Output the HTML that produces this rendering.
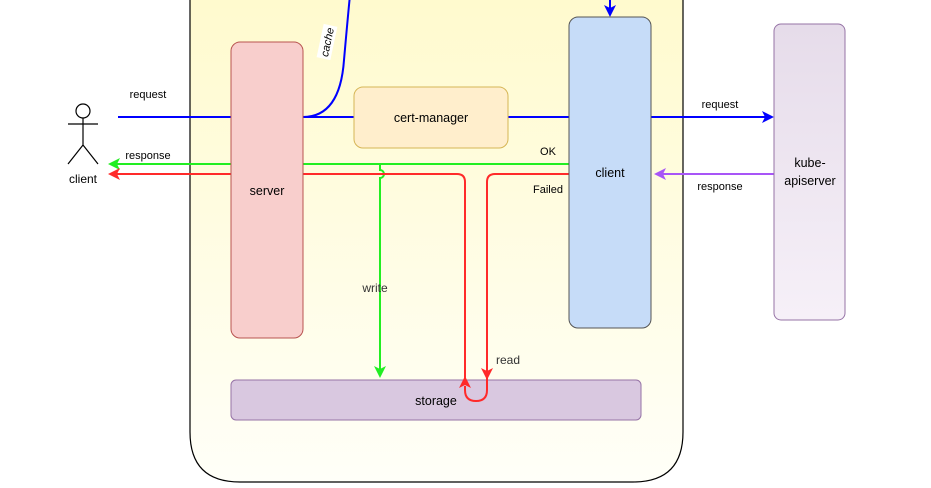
<!DOCTYPE html>
<html><head><meta charset="utf-8"><style>
body{margin:0;background:#fff;width:931px;height:488px;overflow:hidden}
svg{display:block;font-family:"Liberation Sans",Helvetica,Arial,sans-serif}
</style></head><body>
<svg width="931" height="488" viewBox="0 0 931 488">
<defs>
<linearGradient id="yg" x1="0" y1="0" x2="0" y2="1"><stop offset="0" stop-color="#fffacd"/><stop offset="1" stop-color="#fffff8"/></linearGradient>
<linearGradient id="pg" x1="0" y1="0" x2="0" y2="1"><stop offset="0" stop-color="#e6dcea"/><stop offset="1" stop-color="#f6f0f8"/></linearGradient>
</defs>
<path d="M190,-10 V432 Q190,482 240,482 H633 Q683,482 683,432 V-10" fill="url(#yg)" stroke="#000" stroke-width="1.2"/>
<!-- actor -->
<g stroke="#000" stroke-width="1.2" fill="none">
<circle cx="83" cy="111" r="7"/>
<path d="M83,118 V145 M68,124 H98 M83,145 L68,164 M83,145 L98,164"/>
</g>
<text x="83" y="183" font-size="12" text-anchor="middle">client</text>
<!-- blue -->
<g stroke="#0000ff" stroke-width="2" fill="none">
<path d="M118,117 H766"/>
<path d="M303,117 Q340,117 344,60 Q348,15 350,-5"/>
<path d="M610,-5 V9"/>
</g>
<path d="M774,117 L762,111 L765,117 L762,123 Z" fill="#0000ff"/>
<path d="M610,17 L604,5 L610,8 L616,5 Z" fill="#0000ff"/>
<rect x="310" y="35" width="34" height="14" fill="#fff" transform="rotate(-78 327 42)"/>
<text x="327" y="46" font-size="11" font-style="italic" text-anchor="middle" transform="rotate(-78 327 42)">cache</text>
<text x="148" y="98" font-size="11" text-anchor="middle">request</text>
<text x="720" y="108" font-size="11" text-anchor="middle">request</text>
<!-- purple -->
<path d="M774,174 H662" stroke="#a855f7" stroke-width="2"/>
<path d="M654,174 L666,168 L663,174 L666,180 Z" fill="#a855f7"/>
<text x="720" y="190" font-size="11" text-anchor="middle">response</text>
<!-- green -->
<g stroke="#22ee22" stroke-width="2" fill="none">
<path d="M569,164 H116"/>
<path d="M380,164 V170 a4,4 0 0 1 0,8 V370"/>
</g>
<path d="M108,164 L120,158 L117,164 L120,170 Z" fill="#22ee22"/>
<path d="M380,378 L374,366 L380,369 L386,366 Z" fill="#22ee22"/>
<text x="148" y="159" font-size="11" text-anchor="middle">response</text>
<text x="548" y="155" font-size="11" text-anchor="middle">OK</text>
<text x="375" y="292" font-size="12" fill="#333" text-anchor="middle">write</text>
<!-- red upper -->
<g stroke="#ff2a2a" stroke-width="2" fill="none">
<path d="M569,174 H495 Q487,174 487,182 V372"/>
<path d="M465,384 V182 Q465,174 457,174 H116"/>
</g>
<path d="M108,174 L120,168 L117,174 L120,180 Z" fill="#ff2a2a"/>
<text x="548" y="193" font-size="11" text-anchor="middle">Failed</text>
<text x="508" y="364" font-size="12" fill="#333" text-anchor="middle">read</text>
<!-- boxes on top -->
<rect x="231" y="42" width="72" height="296" rx="9" fill="#f8cecc" stroke="#b85450"/>
<text x="267" y="195" font-size="12.5" text-anchor="middle">server</text>
<rect x="354" y="87" width="154" height="61" rx="9" fill="#ffeecc" stroke="#d6b656"/>
<text x="431" y="122" font-size="12.5" text-anchor="middle">cert-manager</text>
<rect x="569" y="17" width="82" height="311" rx="9" fill="#c6dcf8" stroke="#555"/>
<text x="610" y="177" font-size="12.5" text-anchor="middle">client</text>
<rect x="774" y="24" width="71" height="296" rx="7" fill="url(#pg)" stroke="#9673a6"/>
<text x="810" y="167" font-size="12.5" text-anchor="middle">kube-</text>
<text x="810" y="185" font-size="12.5" text-anchor="middle">apiserver</text>
<rect x="231" y="380" width="410" height="40" rx="5" fill="#d9c8e0" stroke="#9673a6"/>
<text x="436" y="405" font-size="12.5" text-anchor="middle">storage</text>
<!-- red loop over storage -->
<path d="M487,378 V390 Q487,401 476,401 Q465,401 465,390 V386" stroke="#ff2a2a" stroke-width="2" fill="none"/>
<path d="M487,380 L481,368 L487,371 L493,368 Z" fill="#ff2a2a"/>
<path d="M465,376 L459,388 L465,385 L471,388 Z" fill="#ff2a2a"/>
</svg>
</body></html>
